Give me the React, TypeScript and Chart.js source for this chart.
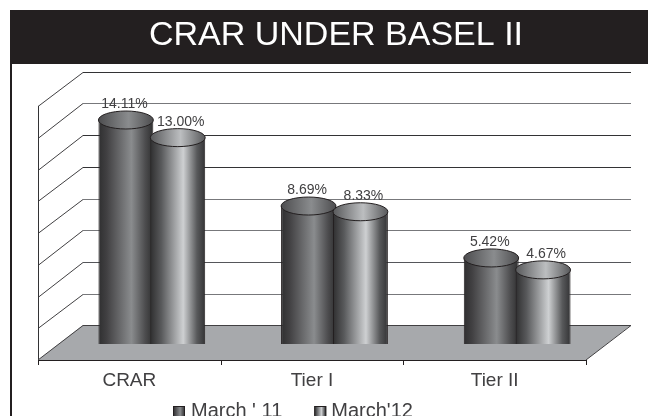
import React, { useEffect, useRef } from "react";
import { Chart, registerables } from "chart.js";

Chart.register(...registerables);

const categories = ["CRAR", "Tier I", "Tier II"];
const seriesNames = ["March ' 11", "March'12"];
const march11 = [14.11, 8.69, 5.42];
const march12 = [13.0, 8.33, 4.67];
const titleText = "CRAR UNDER BASEL II";

const DEPTH_X = 22.5;
const FRONT_Y = 16;
const BACK_Y = 19;
const CAP_RY = 9;
const LABEL_COLOR = "#414042";
const FLOOR = "#a7a9ac";

const bodyStops: [number, string][][] = [
  [
    [0, "#2f2f30"],
    [0.15, "#414042"],
    [0.6, "#8a8c8e"],
    [0.85, "#4d4d4f"],
    [1, "#2f2f30"],
  ],
  [
    [0, "#2f2f30"],
    [0.2, "#58595b"],
    [0.6, "#ced0d2"],
    [0.85, "#58595b"],
    [1, "#333335"],
  ],
];
const capStops: [number, string][][] = [
  [
    [0, "#4d4d4f"],
    [0.55, "#8a8c8e"],
    [1, "#4d4d4f"],
  ],
  [
    [0, "#58595b"],
    [0.55, "#bcbec0"],
    [1, "#58595b"],
  ],
];
const backLineColors = ["#333335", "#77787b", "#333335", "#333335", "#77787b", "#77787b", "#55565a", "#77787b"];

function gradient(c: CanvasRenderingContext2D, x0: number, x1: number, s: [number, string][]) {
  const g = c.createLinearGradient(x0, 0, x1, 0);
  s.forEach(([p, col]) => g.addColorStop(p, col));
  return g;
}

function drawFrame(chart: any) {
  const c = chart.ctx;
  const y = chart.scales.y;
  const x = chart.scales.x;
  const fl = x.left - DEPTH_X;
  const fr = x.right - DEPTH_X;
  const bl = x.left + DEPTH_X;
  const br = x.right + DEPTH_X;
  const base = y.getPixelForValue(0);
  c.save();
  c.lineWidth = 1;
  y.ticks.forEach((t: any) => {
    if (t.value === 0) return;
    const py = y.getPixelForValue(t.value);
    const by = Math.round(py - BACK_Y + 0.6) + 0.5;
    c.strokeStyle = "#414042";
    c.beginPath();
    c.moveTo(fl, Math.round(py + FRONT_Y) + 0.5);
    c.lineTo(bl, by);
    c.stroke();
    c.strokeStyle = backLineColors[backLineColors.length - t.value / 2];
    c.lineWidth = 1.2;
    c.beginPath();
    c.moveTo(bl, by);
    c.lineTo(br, by);
    c.stroke();
    c.lineWidth = 1;
  });
  c.strokeStyle = "#333335";
  c.beginPath();
  c.moveTo(fl + 0.5, y.getPixelForValue(y.max) + FRONT_Y);
  c.lineTo(fl + 0.5, base + FRONT_Y + 5);
  c.stroke();
  c.fillStyle = FLOOR;
  c.beginPath();
  c.moveTo(fl, base + FRONT_Y);
  c.lineTo(bl, base - BACK_Y);
  c.lineTo(br, base - BACK_Y);
  c.lineTo(fr, base + FRONT_Y);
  c.closePath();
  c.fill();
  c.strokeStyle = "#414042";
  c.beginPath();
  c.moveTo(fl, base + FRONT_Y);
  c.lineTo(bl, base - BACK_Y + 0.5);
  c.lineTo(br, base - BACK_Y + 0.5);
  c.lineTo(fr, base + FRONT_Y);
  c.stroke();
  c.strokeStyle = "#231f20";
  c.beginPath();
  c.moveTo(fl, Math.round(base + FRONT_Y) + 0.5);
  c.lineTo(fr, Math.round(base + FRONT_Y) + 0.5);
  const n = categories.length;
  for (let i = 0; i <= n; i++) {
    const tx = Math.round(fl + (i * (fr - fl)) / n) + 0.5;
    c.moveTo(tx, base + FRONT_Y);
    c.lineTo(tx, base + FRONT_Y + 5);
  }
  c.stroke();
  c.restore();
}

const scenePlugin = {
  id: "scene",
  beforeDraw(chart: any) {
    const c = chart.ctx;
    c.save();
    c.fillStyle = "#ffffff";
    c.fillRect(0, 0, chart.width, chart.height);
    c.fillStyle = "#231f20";
    c.fillRect(10, 10, chart.width - 10, 54);
    c.fillRect(10, 64, 2, chart.height - 64);
    c.restore();
  },
  beforeDatasetsDraw(chart: any) {
    const c = chart.ctx;
    drawFrame(chart);
    // First series is painted first, so that the second overlaps it.
    chart.data.datasets.forEach((d: any, index: number) => {
      const meta = chart.getDatasetMeta(index);
      const dx = index === 0 ? -1.5 : 3;
      meta.data.forEach((el: any) => {
        el.options = {
          ...el.options,
          backgroundColor: gradient(c, el.x - el.width / 2, el.x + el.width / 2, bodyStops[index]),
        };
      });
      meta.controller.draw();
      meta.data.forEach((el: any, i: number) => {
        const rx = el.width / 2;
        c.save();
        c.fillStyle = gradient(c, el.x - rx, el.x + rx, capStops[index]);
        c.strokeStyle = "#231f20";
        c.lineWidth = 1;
        c.beginPath();
        c.ellipse(el.x, el.y, rx, CAP_RY, 0, 0, Math.PI * 2);
        c.fill();
        c.stroke();
        c.fillStyle = LABEL_COLOR;
        c.font = "14px 'Liberation Sans'";
        c.textAlign = "center";
        c.textBaseline = "middle";
        c.fillText(d.data[i].toFixed(2) + "%", el.x + dx, el.y - CAP_RY - 6.5);
        c.restore();
      });
    });
    return false;
  },
  afterLayout(chart: any) {
    const lg = chart.legend;
    const pad = lg.options.labels.padding;
    lg.left = 173 - pad;
    lg.right = chart.width;
    lg.top = 401 - pad;
    lg.bottom = chart.height;
    lg.adjustHitBoxes();
    chart.titleBlock.left += 1.5;
    chart.titleBlock.right += 1.5;
  },
  afterDraw(chart: any) {
    const c = chart.ctx;
    const lg = chart.legend;
    (lg.legendHitBoxes || []).forEach((b: any, i: number) => {
      const x = b.left + i;
      c.save();
      c.fillStyle = gradient(c, x, x + 12, bodyStops[i]);
      c.strokeStyle = "#231f20";
      c.lineWidth = 1;
      c.fillRect(x, 406, 12, 12);
      c.strokeRect(x + 0.5, 406.5, 11, 11);
      c.restore();
    });
  },
};

export default function App() {
  const ref = useRef<HTMLCanvasElement>(null);
  useEffect(() => {
    document.body.style.margin = "0";
    const ctx = ref.current!.getContext("2d")!;
    const chart = new Chart(ctx, {
      type: "bar",
      data: {
        labels: categories,
        datasets: [
          {
            label: seriesNames[0],
            data: march11,
            backgroundColor: "#58595b",
            borderColor: "#231f20",
            borderWidth: 1,
            barPercentage: 1.058,
            categoryPercentage: 0.568,
          },
          {
            label: seriesNames[1],
            data: march12,
            backgroundColor: "#8a8c8e",
            borderColor: "#231f20",
            borderWidth: 1,
            barPercentage: 1.058,
            categoryPercentage: 0.568,
          },
        ],
      },
      options: {
        responsive: false,
        animation: false,
        layout: { padding: { left: 60.5, right: 39.5, top: 0, bottom: 0 } },
        plugins: {
          tooltip: { enabled: false },
          title: {
            display: true,
            text: titleText,
            color: "#ffffff",
            font: { family: "'Liberation Sans'", size: 34, weight: "normal", lineHeight: 1.2 },
            padding: { top: 15.5, bottom: 33.7 },
          },
          legend: {
            display: true,
            position: "bottom",
            align: "start",
            maxHeight: 30,
            labels: {
              color: LABEL_COLOR,
              boxWidth: 8,
              boxHeight: 8,
              padding: 31,
              font: { family: "'Liberation Sans'", size: 20 },
              generateLabels(chart: any) {
                return chart.data.datasets.map((d: any, i: number) => ({
                  text: d.label,
                  fillStyle: "rgba(0,0,0,0)",
                  strokeStyle: "rgba(0,0,0,0)",
                  lineWidth: 0,
                  datasetIndex: i,
                  fontColor: LABEL_COLOR,
                }));
              },
            },
          },
        },
        scales: {
          x: {
            grid: { display: false },
            border: { display: false },
            afterFit(scale: any) {
              scale.height = 42;
            },
            ticks: {
              color: LABEL_COLOR,
              font: { family: "'Liberation Sans'", size: 19 },
              labelOffset: -DEPTH_X,
              padding: 17,
              maxRotation: 0,
            },
          },
          y: {
            display: false,
            min: 0,
            max: 16,
            ticks: { stepSize: 2 },
          },
        },
      },
      plugins: [scenePlugin],
    });
    return () => chart.destroy();
  }, []);
  return <canvas ref={ref} width={648} height={416} style={{ display: "block" }} />;
}
